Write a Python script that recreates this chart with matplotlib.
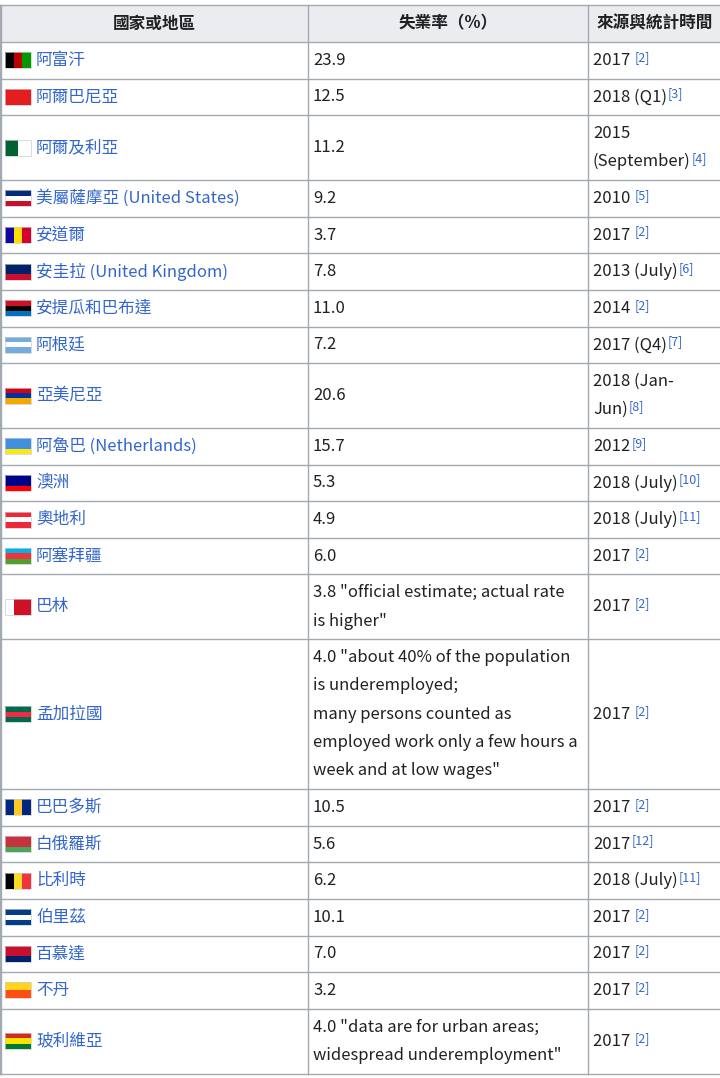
import matplotlib
matplotlib.use("Agg")
import matplotlib.pyplot as plt
from matplotlib.patches import Rectangle

FONT = "Noto Sans CJK TC"
LINK = "#3366cc"
TEXT = "#202122"
BORDER = "#a2a9b1"

headers = ["國家或地區", "失業率（%）", "來源與統計時間"]

names = ["阿富汗", "阿爾巴尼亞", "阿爾及利亞", "美屬薩摩亞 (United States)", "安道爾",
         "安圭拉 (United Kingdom)", "安提瓜和巴布達", "阿根廷", "亞美尼亞",
         "阿魯巴 (Netherlands)", "澳洲", "奧地利", "阿塞拜疆", "巴林", "孟加拉國",
         "巴巴多斯", "白俄羅斯", "比利時", "伯里茲", "百慕達", "不丹", "玻利維亞"]
italic = [False, False, False, True, False, True, False, False, False, True, False,
          False, False, False, False, False, False, False, False, False, False, False]
flags = [["#000000", "#bb0000", "#009900"], ["#e41e20"], ["#006233", "#ffffff"],
         ["#002b7f", "#ffffff", "#c8102e"], ["#10069f", "#fedd00", "#d50032"],
         ["#012169", "#012169", "#c8102e"], ["#ce1126", "#000000", "#0072c6"],
         ["#74acdf", "#ffffff", "#74acdf"], ["#d90012", "#0033a0", "#f2a800"],
         ["#418fde", "#418fde", "#f9e814"], ["#00008b", "#00008b", "#ff0000"],
         ["#ed2939", "#ffffff", "#ed2939"], ["#00b5e2", "#ef3340", "#509e2f"],
         ["#ffffff", "#ce1126", "#ce1126"], ["#006a4e", "#f42a41", "#006a4e"],
         ["#00267f", "#ffc726", "#00267f"], ["#c8313e", "#c8313e", "#4aa657"],
         ["#000000", "#fdda24", "#ef3340"], ["#003f87", "#ffffff", "#003f87"],
         ["#c8102e", "#c8102e", "#012169"], ["#ffd520", "#ff4e12"],
         ["#d52b1e", "#f9e300", "#007934"]]
vertical = [True, False, True, False, True, False, False, False, False, False, False,
            False, False, True, False, True, False, True, False, False, False, False]
rates = [["23.9"], ["12.5"], ["11.2"], ["9.2"], ["3.7"], ["7.8"], ["11.0"], ["7.2"],
         ["20.6"], ["15.7"], ["5.3"], ["4.9"], ["6.0"],
         ['3.8 "official estimate; actual rate', 'is higher"'],
         ['4.0 "about 40% of the population', 'is underemployed;',
          'many persons counted as', 'employed work only a few hours a',
          'week and at low wages"'],
         ["10.5"], ["5.6"], ["6.2"], ["10.1"], ["7.0"], ["3.2"],
         ['4.0 "data are for urban areas;', 'widespread underemployment"']]
sources = [["2017 "], ["2018 (Q1)"], ["2015", "(September)"], ["2010 "], ["2017 "],
           ["2013 (July)"], ["2014 "], ["2017 (Q4)"], ["2018 (Jan-", "Jun)"],
           ["2012"], ["2018 (July)"], ["2018 (July)"], ["2017 "], ["2017 "], ["2017 "],
           ["2017 "], ["2017"], ["2018 (July)"], ["2017 "], ["2017 "], ["2017 "], ["2017 "]]
refs = ["[2]", "[3]", "[4]", "[5]", "[2]", "[6]", "[2]", "[7]", "[8]", "[9]", "[10]",
        "[11]", "[2]", "[2]", "[2]", "[2]", "[12]", "[11]", "[2]", "[2]", "[2]", "[2]"]

W, H = 720, 1078
fig = plt.figure(figsize=(W / 100, H / 100), dpi=100)
ax = fig.add_axes([0, 0, 1, 1])
ax.set_xlim(0, W)
ax.set_ylim(H, 0)
ax.axis("off")
renderer = fig.canvas.get_renderer()

cols = [0, 308, 588, 722]
fs = 12
LH = 28.3

# header
top = 5
ax.add_patch(Rectangle((0, top), W, 37, facecolor="#eaecf0", edgecolor="none"))
for i, h in enumerate(headers):
    ax.text((cols[i] + cols[i + 1]) / 2, top + 18.5, h, fontsize=fs, fontweight="bold",
            family=FONT, color=TEXT, ha="center", va="center")
ax.plot([0, W], [top, top], color=BORDER, lw=1)
y = top + 37
ax.plot([0, W], [y, y], color=BORDER, lw=1)

for i in range(len(names)):
    n = max(len(rates[i]), len(sources[i]))
    h = 36.6 + (n - 1) * LH
    mid = y + h / 2
    # flag
    fc = flags[i]
    fw, fh = 26, 16
    for k, c in enumerate(fc):
        if vertical[i]:
            r = Rectangle((5 + k * fw / len(fc), mid - fh / 2), fw / len(fc), fh)
        else:
            r = Rectangle((5, mid - fh / 2 + k * fh / len(fc)), fw, fh / len(fc))
        r.set_facecolor(c)
        r.set_edgecolor("none")
        ax.add_patch(r)
    ax.add_patch(Rectangle((5, mid - fh / 2), fw, fh, facecolor="none",
                           edgecolor="#cccccc", lw=0.5))
    ax.text(36, mid, names[i], fontsize=fs, family=FONT, color=LINK, va="center",
            style="italic" if italic[i] else "normal")

    def cell(lines, x):
        start = mid - (len(lines) - 1) * LH / 2
        t = None
        for j, ln in enumerate(lines):
            t = ax.text(x, start + j * LH, ln, fontsize=fs, family=FONT, color=TEXT,
                        va="center")
        return t

    cell(rates[i], 313)
    t = cell(sources[i], 593)
    bb = t.get_window_extent(renderer)
    xr = bb.x1 + 1
    yr = H - bb.y1 - 1
    ax.text(xr, yr, refs[i], fontsize=9, family=FONT, color=LINK, va="top")

    y += h
    ax.plot([0, W], [y, y], color=BORDER, lw=1)

for c in cols[:3]:
    ax.plot([c, c], [top, y], color=BORDER, lw=1)
ax.plot([0.5, 0.5], [top, y], color=BORDER, lw=1)

fig.savefig("out.png", dpi=100)
